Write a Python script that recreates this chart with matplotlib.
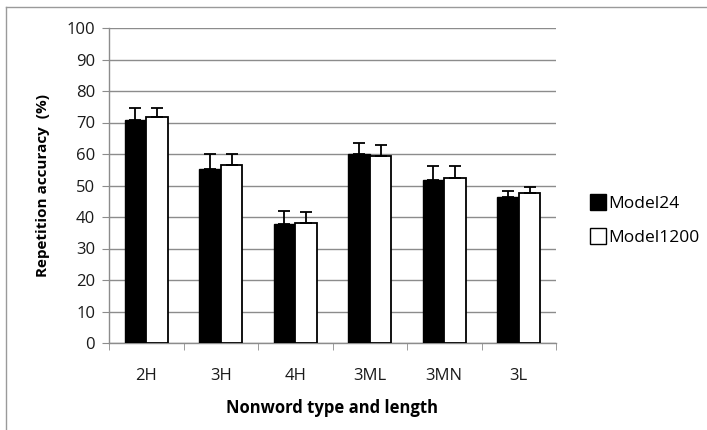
"""Repetition accuracy by nonword type for the two models."""

import matplotlib
matplotlib.use("Agg")
import matplotlib.pyplot as plt
from matplotlib.lines import Line2D
import numpy as np

categories = ["2H", "3H", "4H", "3ML", "3MN", "3L"]
model24 = [70.7, 55.2, 37.9, 60.0, 51.9, 46.2]
model24_err = [3.8, 4.7, 4.0, 3.6, 4.3, 1.9]
model1200 = [71.6, 56.6, 38.2, 59.5, 52.3, 47.6]
model1200_err = [2.9, 3.3, 3.3, 3.3, 3.9, 1.9]
series_names = ["Model24", "Model1200"]
y_ticks = list(range(0, 101, 10))

plt.rcParams["font.family"] = ["Open Sans", "DejaVu Sans"]

fig = plt.figure(figsize=(7.07, 4.30), dpi=100)
ax = fig.add_axes([109 / 707, 87 / 430, 447 / 707, 315 / 430])

x = np.arange(len(categories))
width = 0.29
grid_color = "#8c8c8c"

err_style = dict(ecolor="black", elinewidth=1.3, capsize=4.5, capthick=1.3)
ax.bar(x - width / 2, model24, width, color="black", edgecolor="black", linewidth=1.0,
       yerr=[[0] * len(model24), model24_err], error_kw=err_style, label=series_names[0], zorder=3)
ax.bar(x + width / 2, model1200, width, color="white", edgecolor="black", linewidth=1.3,
       yerr=[[0] * len(model1200), model1200_err], error_kw=err_style, label=series_names[1], zorder=3)

ax.set_xlim(-0.5, len(categories) - 0.5)
ax.set_ylim(0, 100)
ax.set_yticks(y_ticks)
ax.set_yticklabels([str(v) for v in y_ticks], fontsize=12, color="#1a1a1a")
ax.yaxis.grid(True, color=grid_color, linewidth=1.0, zorder=0)

ax.set_xticks(x)
ax.set_xticklabels(categories, fontsize=12, color="#1a1a1a")
ax.set_xticks(np.arange(-0.5, len(categories)), minor=True)
ax.tick_params(axis="x", which="major", length=0, pad=18)
ax.tick_params(axis="x", which="minor", length=5, color=grid_color, direction="out")
ax.tick_params(axis="y", length=5, color=grid_color, direction="out", pad=5)

for side in ["top", "right"]:
    ax.spines[side].set_visible(False)
for side in ["left", "bottom"]:
    ax.spines[side].set_color(grid_color)
    ax.spines[side].set_linewidth(1.0)

ax.set_xlabel("Nonword type and length", fontsize=12, fontweight="bold", labelpad=11)
ax.set_ylabel("Repetition accuracy  (%)", fontsize=11, fontweight="bold", labelpad=12)

handles = [
    Line2D([], [], marker="s", linestyle="none", markersize=11, markerfacecolor="black",
           markeredgecolor="black"),
    Line2D([], [], marker="s", linestyle="none", markersize=11, markerfacecolor="white",
           markeredgecolor="black"),
]
fig.legend(handles, series_names, loc="center left", bbox_to_anchor=(574 / 707, 1 - 221 / 430),
           frameon=False, fontsize=12.5, handletextpad=0.1, labelspacing=1.0, handlelength=1.0)

# outer chart border (only top and left visible in the crop)
fig.add_artist(Line2D([6 / 707, 1], [1 - 7 / 430, 1 - 7 / 430], color="#9a9a9a", linewidth=1.0))
fig.add_artist(Line2D([6 / 707, 6 / 707], [0, 1 - 7 / 430], color="#9a9a9a", linewidth=1.0))

fig.savefig("out.png", dpi=100)
